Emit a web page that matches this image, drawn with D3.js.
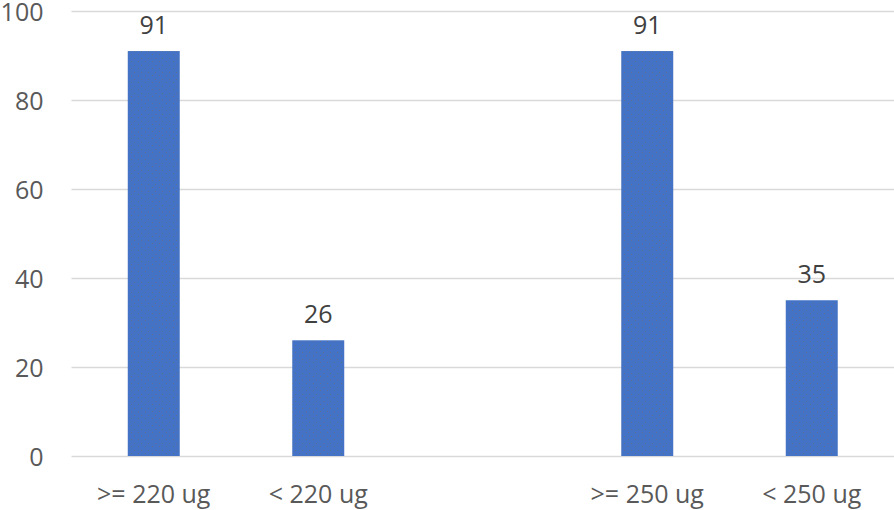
<!DOCTYPE html>
<html>
<head>
<meta charset="utf-8">
<script src="https://cdn.jsdelivr.net/npm/d3@7"></script>
<style>
  html, body { margin: 0; padding: 0; background: #fff; }
  svg { display: block; }
  text { font-family: "Open Sans", "Liberation Sans", sans-serif; }
</style>
</head>
<body>
<svg id="chart" width="894" height="510"></svg>
<script>
const categories = [">= 220 ug", "< 220 ug", "", ">= 250 ug", "< 250 ug"];
const values = [91, 26, null, 91, 35];
const yTicks = [0, 20, 40, 60, 80, 100];

const plotLeft = 71.5, plotRight = 894, plotTop = 11, plotBottom = 456;

const svg = d3.select("#chart");

const slots = categories.map((c, i) => "slot" + i);
const x = d3.scaleBand().domain(slots).range([plotLeft, plotRight]).paddingInner(0.684).paddingOuter(0.342);
const y = d3.scaleLinear().domain([0, 100]).range([plotBottom, plotTop]);

// gridlines
const yAxis = d3.axisLeft(y).tickValues(yTicks).tickSize(-(plotRight - plotLeft)).tickPadding(28);
const gy = svg.append("g").attr("transform", `translate(${plotLeft},0)`).call(yAxis);
gy.select(".domain").remove();
gy.selectAll(".tick line").attr("stroke", "#d9d9d9").attr("stroke-width", 1.3);
gy.selectAll(".tick text")
  .attr("fill", "#595959")
  .attr("font-size", 25)
  .attr("x", -28)
  .attr("dy", "0.36em");

// bottom labels
const xAxis = d3.axisBottom(x).tickFormat((d, i) => categories[i]).tickSize(0).tickPadding(0);
const gx = svg.append("g").attr("transform", `translate(0,${plotBottom})`).call(xAxis);
gx.select(".domain").remove();
gx.selectAll(".tick text")
  .attr("fill", "#595959")
  .attr("font-size", 25)
  .attr("y", 47)
  .attr("dy", 0);

// pattern for bar texture
const defs = svg.append("defs");
const pat = defs.append("pattern").attr("id", "tex").attr("patternUnits", "userSpaceOnUse")
  .attr("width", 7).attr("height", 7);
pat.append("rect").attr("width", 7).attr("height", 7).attr("fill", "#4472C4");
pat.append("rect").attr("x", 1).attr("y", 2).attr("width", 1).attr("height", 1).attr("fill", "#6b6f80").attr("opacity", 0.7);
pat.append("rect").attr("x", 5).attr("y", 5).attr("width", 1).attr("height", 1).attr("fill", "#6b6f80").attr("opacity", 0.7);

const data = categories.map((c, i) => ({ key: slots[i], label: c, value: values[i] })).filter(d => d.value != null);

svg.append("g").selectAll("rect").data(data).join("rect")
  .attr("x", d => x(d.key))
  .attr("width", x.bandwidth())
  .attr("y", d => y(d.value))
  .attr("height", d => y(0) - y(d.value))
  .attr("fill", "url(#tex)");

svg.append("g").selectAll("text").data(data).join("text")
  .attr("x", d => x(d.key) + x.bandwidth() / 2)
  .attr("y", d => y(d.value) - 17)
  .attr("text-anchor", "middle")
  .attr("fill", "#404040")
  .attr("font-size", 25)
  .text(d => d.value);
</script>
</body>
</html>
